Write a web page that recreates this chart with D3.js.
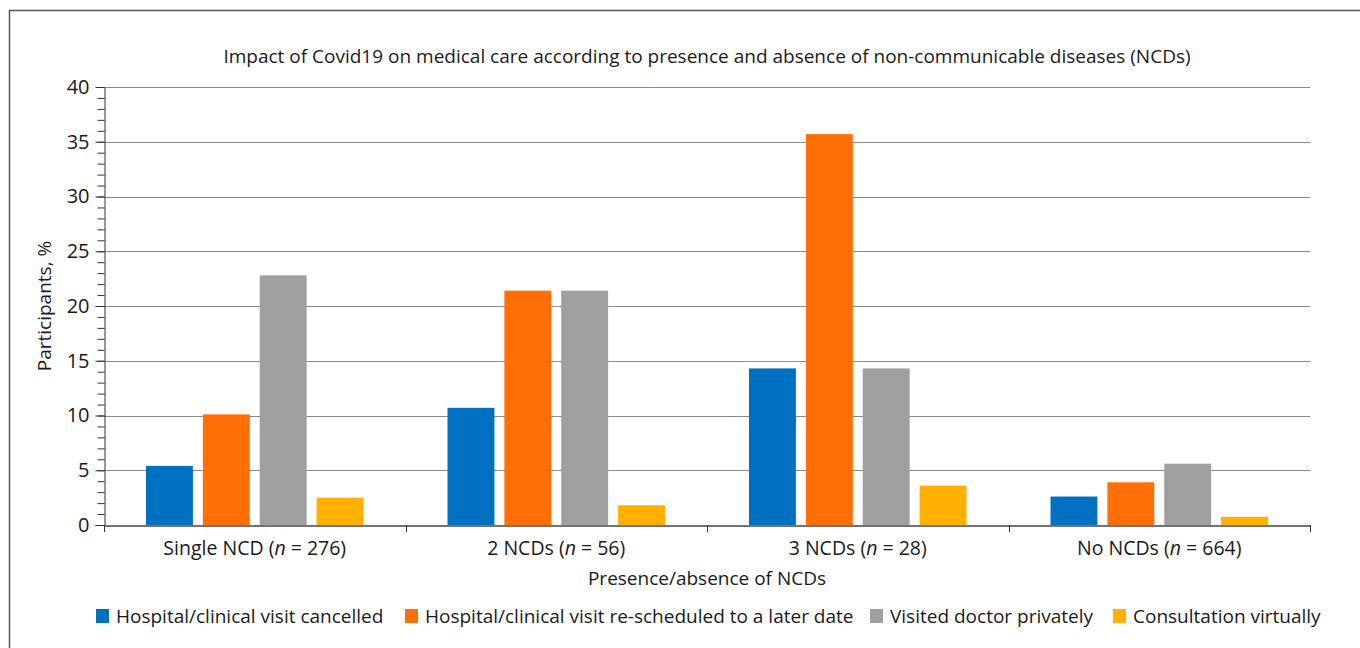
<!DOCTYPE html>
<html>
<head>
<meta charset="utf-8">
<script src="https://cdn.jsdelivr.net/npm/d3@7"></script>
<style>
  body { margin: 0; background: #fff; }
  text { font-family: "Open Sans", "Noto Sans", sans-serif; fill: #1a1a1a; }
</style>
</head>
<body>
<svg id="chart"></svg>
<script>
const categories = ["Single NCD", "2 NCDs", "3 NCDs", "No NCDs"];
const groupSizes = [276, 56, 28, 664];
const seriesNames = [
  "Hospital/clinical visit cancelled",
  "Hospital/clinical visit re-scheduled to a later date",
  "Visited doctor privately",
  "Consultation virtually"
];
const cancelled = [5.4, 10.7, 14.3, 2.6];
const rescheduled = [10.1, 21.4, 35.7, 3.9];
const privately = [22.8, 21.4, 14.3, 5.6];
const virtually = [2.5, 1.8, 3.6, 0.75];
const colors = ["#0070c0", "#ff6f06", "#9f9f9f", "#ffb000"];
const yTicks = [0, 5, 10, 15, 20, 25, 30, 35, 40];

const width = 1360;
const height = 648;
const margin = { top: 87, left: 104, right: 50, bottom: 123 };

const svg = d3.select("#chart")
    .attr("width", width)
    .attr("height", height);

// outer frame
svg.append("rect")
    .attr("x", 9.5)
    .attr("y", 10.5)
    .attr("width", width + 20)
    .attr("height", height + 20)
    .attr("fill", "none")
    .attr("stroke", "#555")
    .attr("stroke-width", 1.5);

const series = [cancelled, rescheduled, privately, virtually];
const rows = categories.map((c, i) => ({
  cat: c,
  values: series.map((s, j) => ({ key: j, value: s[i] }))
}));

const x0 = d3.scaleBand()
    .domain(categories)
    .range([margin.left, width - margin.right])
    .padding(0);

const x1 = d3.scaleBand()
    .domain(d3.range(series.length))
    .range([42, x0.bandwidth() - 42])
    .paddingInner(0.175)
    .paddingOuter(0);

const y = d3.scaleLinear()
    .domain([0, 40])
    .range([height - margin.bottom, margin.top]);

// gridlines
svg.append("g")
    .selectAll("line")
    .data(yTicks.filter(d => d > 0))
    .enter()
    .append("line")
    .attr("x1", margin.left)
    .attr("x2", width - margin.right)
    .attr("y1", d => Math.round(y(d)) + 0.5)
    .attr("y2", d => Math.round(y(d)) + 0.5)
    .attr("stroke", "#8a8a8a")
    .attr("stroke-width", 1.2);

// bars
const groups = svg.selectAll("g.group")
    .data(rows)
    .enter()
    .append("g")
    .attr("class", "group")
    .attr("transform", d => `translate(${x0(d.cat)}, 0)`);

groups.selectAll("rect")
    .data(d => d.values)
    .enter()
    .append("rect")
    .attr("x", d => x1(d.key))
    .attr("width", x1.bandwidth())
    .attr("y", d => y(d.value))
    .attr("height", d => y(0) - y(d.value))
    .attr("fill", d => colors[d.key]);

// y axis with minor ticks
svg.append("g")
    .attr("transform", `translate(${margin.left + 0.5}, 0)`)
    .call(d3.axisLeft(y).tickValues(d3.range(0, 41, 1)).tickSize(7).tickFormat(""))
    .call(g => g.select(".domain").remove())
    .call(g => g.selectAll("line").attr("stroke", "#333"));

const yAxis = svg.append("g")
    .attr("transform", `translate(${margin.left + 0.5}, 0)`)
    .call(d3.axisLeft(y).tickValues(yTicks).tickSize(9).tickPadding(6).tickSizeOuter(0));
yAxis.select(".domain").attr("stroke", "#333");
yAxis.selectAll("line").attr("stroke", "#333");
yAxis.selectAll("text")
    .style("font-size", "20px")
    .attr("fill", "#1a1a1a");

// x axis
const xAxis = svg.append("g")
    .attr("transform", `translate(0, ${y(0) + 0.5})`)
    .call(d3.axisBottom(x0).tickSize(0).tickFormat(""));
xAxis.select(".domain").attr("stroke", "#444").attr("stroke-width", 1.5);

svg.append("g")
    .selectAll("line")
    .data(categories.map(c => x0(c)).concat([width - margin.right]))
    .enter()
    .append("line")
    .attr("x1", d => Math.round(d) + 0.5)
    .attr("x2", d => Math.round(d) + 0.5)
    .attr("y1", y(0))
    .attr("y2", y(0) + 7)
    .attr("stroke", "#333");

// category labels with italic n
const catLabels = svg.append("g")
    .selectAll("text")
    .data(categories)
    .enter()
    .append("text")
    .attr("x", d => x0(d) + x0.bandwidth() / 2)
    .attr("y", y(0) + 30)
    .attr("text-anchor", "middle")
    .style("font-size", "19.5px");
catLabels.append("tspan").text(d => d + " (");
catLabels.append("tspan").style("font-style", "italic").text("n");
catLabels.append("tspan").text((d, i) => " = " + groupSizes[i] + ")");

// title
svg.append("text")
    .attr("x", (margin.left + width - margin.right) / 2)
    .attr("y", 63)
    .attr("text-anchor", "middle")
    .style("font-size", "19px")
    .text("Impact of Covid19 on medical care according to presence and absence of non-communicable diseases (NCDs)");

// axis titles
svg.append("text")
    .attr("x", (margin.left + width - margin.right) / 2)
    .attr("y", 585)
    .attr("text-anchor", "middle")
    .style("font-size", "19px")
    .text("Presence/absence of NCDs");

svg.append("text")
    .attr("transform", `translate(51, ${(y(0) + y(40)) / 2}) rotate(-90)`)
    .attr("text-anchor", "middle")
    .style("font-size", "19px")
    .text("Participants, %");

// legend
const legendX = [96, 405, 870, 1113];
const legend = svg.append("g")
    .selectAll("g")
    .data(seriesNames)
    .enter()
    .append("g")
    .attr("transform", (d, i) => `translate(${legendX[i]}, 616)`);

legend.append("rect")
    .attr("x", 0)
    .attr("y", -7)
    .attr("width", 13)
    .attr("height", 14)
    .attr("fill", (d, i) => colors[i]);

legend.append("text")
    .attr("x", 20)
    .attr("y", 7)
    .style("font-size", "19px")
    .text(d => d);
</script>
</body>
</html>
